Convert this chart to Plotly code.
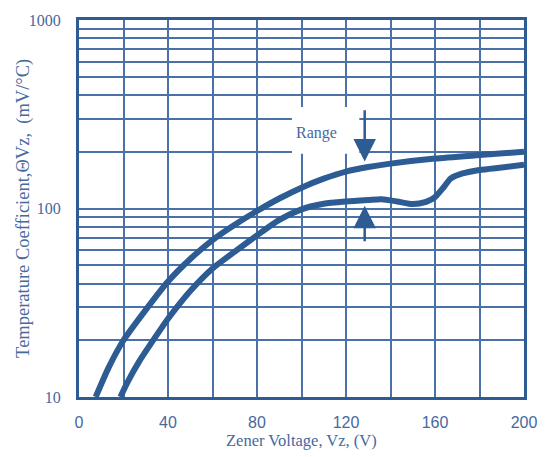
import math
import plotly.graph_objects as go

# ---- data ----
upper_v = [7.5, 13.4, 20, 30, 40, 50, 60, 70, 80, 90, 100, 110, 120, 130, 140, 160, 180, 200]
upper_c = [10, 14.4, 20, 29, 41, 54, 68, 82, 97, 113, 129, 144, 157, 166, 173, 184, 192, 200]

lower_v = [18.6, 22, 27, 34.2, 40, 45, 50, 60, 70, 80, 90, 100, 110, 120, 130, 136, 143, 150, 156, 160, 164, 167, 172, 180, 190, 200]
lower_c = [10, 12.1, 15.4, 20.7, 26, 31, 36.5, 48, 59, 72, 87, 99, 106, 109, 111, 112, 109, 105.5, 108.5, 115, 130, 144, 153, 160, 165, 170.5]

x_ticks = [0, 20, 40, 60, 80, 100, 120, 140, 160, 180, 200]
x_labels = ["0", "", "40", "", "80", "", "120", "", "160", "", "200"]
y_ticks = [10, 20, 30, 40, 50, 60, 70, 80, 90, 100, 200, 300, 400, 500, 600, 700, 800, 900, 1000]
y_labels = ["10", "", "", "", "", "", "", "", "", "100", "", "", "", "", "", "", "", "", "1000"]

arrow_v = 128.4
down_arrow = [338, 177.7]   # tail, tip
up_arrow = [65.8, 103.3]    # tail, tip
range_label_pos = [106.7, 250]
label_box = [95.7, 126, 195, 346]

LINE = "#2d5b93"
GRID = "#4a72a8"
TXT = "#46699e"

fig = go.Figure()
fig.add_trace(go.Scatter(x=upper_v, y=upper_c, mode="lines",
                         line=dict(color=LINE, width=6, shape="spline", smoothing=0.6),
                         showlegend=False, hoverinfo="skip"))
fig.add_trace(go.Scatter(x=lower_v, y=lower_c, mode="lines",
                         line=dict(color=LINE, width=6, shape="spline", smoothing=0.6),
                         showlegend=False, hoverinfo="skip"))

fig.add_shape(type="rect", xref="x", yref="y",
              x0=label_box[0], x1=label_box[1], y0=label_box[2], y1=label_box[3],
              fillcolor="white", line=dict(width=0), layer="between")

for tail, tip in (down_arrow, up_arrow):
    fig.add_annotation(x=arrow_v, y=math.log10(tip), ax=arrow_v, ay=math.log10(tail),
                       xref="x", yref="y", axref="x", ayref="y", text="",
                       showarrow=True, arrowhead=2, arrowsize=1.8, arrowwidth=2.5,
                       arrowcolor=LINE)

fig.add_annotation(x=range_label_pos[0], y=math.log10(range_label_pos[1]),
                   xref="x", yref="y", text="Range", showarrow=False,
                   font=dict(family="Liberation Serif", size=16, color=TXT))

fig.add_annotation(x=0.5, y=-0.115, xref="paper", yref="paper",
                   text="Zener Voltage, Vz, (V)", showarrow=False,
                   xanchor="center", yanchor="middle",
                   font=dict(family="Liberation Serif", size=16.5, color=TXT))
fig.add_annotation(x=-0.125, y=0.5, xref="paper", yref="paper",
                   text="Temperature Coefficient,ΘVz,  (mV/°C)", showarrow=False,
                   textangle=-90, xanchor="center", yanchor="middle",
                   font=dict(family="Liberation Serif", size=18.5, color=TXT))

fig.update_xaxes(range=[0, 200], tickvals=x_ticks, ticktext=x_labels,
                 showgrid=True, gridcolor=GRID, gridwidth=1.6,
                 showline=True, linecolor=LINE, linewidth=3, mirror=True,
                 ticks="", ticklabelstandoff=9, zeroline=False,
                 tickfont=dict(family="Liberation Sans", size=16, color=TXT))
fig.update_yaxes(type="log", range=[1, 3], tickvals=y_ticks, ticktext=y_labels,
                 showgrid=True, gridcolor=GRID, gridwidth=1.6,
                 showline=True, linecolor=LINE, linewidth=3, mirror=True,
                 ticks="", ticklabelstandoff=12, zeroline=False,
                 tickfont=dict(family="Liberation Serif", size=16, color=TXT))

fig.update_layout(width=549, height=457, margin=dict(l=79, r=22, t=15, b=60),
                  plot_bgcolor="white", paper_bgcolor="white")

fig.write_html("out.html")
